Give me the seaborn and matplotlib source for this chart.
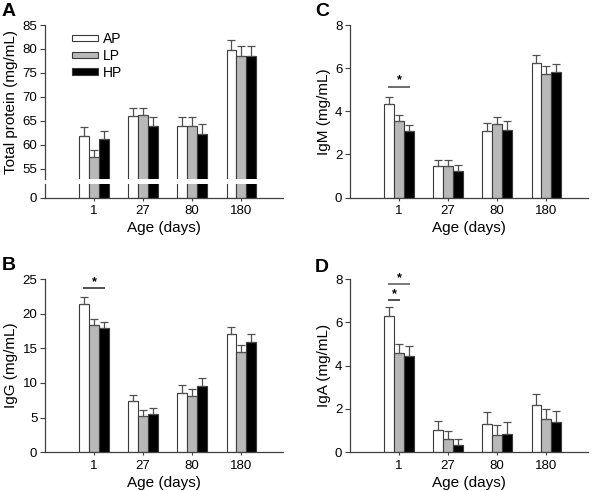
import matplotlib

matplotlib.use("Agg")
import matplotlib.patches as mpatches
import matplotlib.pyplot as plt
import numpy as np
import pandas as pd
import seaborn as sns

AGES = ["1", "27", "80", "180"]
GROUPS = ["AP", "LP", "HP"]
COLORS = {"AP": "#ffffff", "LP": "#b8b8b8", "HP": "#000000"}

# Total protein (mg/mL)
TP_AP = [61.9, 66.0, 64.0, 79.8]
TP_LP = [57.5, 66.2, 64.0, 78.6]
TP_HP = [61.3, 64.0, 62.2, 78.5]
TP_ERR_AP = [1.9, 1.7, 1.9, 2.0]
TP_ERR_LP = [1.4, 1.5, 1.8, 2.0]
TP_ERR_HP = [1.6, 1.8, 2.1, 2.1]

# IgG (mg/mL)
IGG_AP = [21.4, 7.36, 8.6, 17.0]
IGG_LP = [18.4, 5.24, 8.17, 14.5]
IGG_HP = [17.9, 5.48, 9.57, 15.9]
IGG_ERR_AP = [1.05, 0.95, 1.15, 1.1]
IGG_ERR_LP = [0.8, 0.9, 0.95, 0.95]
IGG_ERR_HP = [0.95, 0.95, 1.2, 1.2]

# IgM (mg/mL)
IGM_AP = [4.33, 1.46, 3.07, 6.22]
IGM_LP = [3.53, 1.46, 3.42, 5.74]
IGM_HP = [3.07, 1.21, 3.13, 5.82]
IGM_ERR_AP = [0.33, 0.30, 0.37, 0.37]
IGM_ERR_LP = [0.28, 0.27, 0.31, 0.34]
IGM_ERR_HP = [0.30, 0.29, 0.40, 0.36]

# IgA (mg/mL)
IGA_AP = [6.28, 1.02, 1.32, 2.2]
IGA_LP = [4.57, 0.60, 0.78, 1.52]
IGA_HP = [4.43, 0.32, 0.86, 1.40]
IGA_ERR_AP = [0.44, 0.41, 0.54, 0.51]
IGA_ERR_LP = [0.41, 0.40, 0.47, 0.46]
IGA_ERR_HP = [0.46, 0.28, 0.56, 0.52]

# significance brackets: (first group idx, last group idx, height, colour)
SIG_B = [(0, 2, 23.65, "#222222")]
SIG_C = [(0, 2, 5.14, "#444444")]
SIG_D = [(0, 2, 7.75, "#555555"), (0, 1, 7.03, "#222222")]

EDGE = "#3a3a3a"
AXC = "#404040"

plt.rcParams["font.family"] = ["Liberation Sans", "DejaVu Sans"]
plt.rcParams["axes.edgecolor"] = AXC
plt.rcParams["xtick.color"] = AXC
plt.rcParams["ytick.color"] = AXC
plt.rcParams["xtick.labelcolor"] = "black"
plt.rcParams["ytick.labelcolor"] = "black"


def make_df(ap, lp, hp):
    rows = []
    for g, vals in zip(GROUPS, (ap, lp, hp)):
        for a, v in zip(AGES, vals):
            rows.append({"age": a, "group": g, "value": v})
    return pd.DataFrame(rows)


def bars(ax, ap, lp, hp, errs=None):
    df = make_df(ap, lp, hp)
    sns.barplot(data=df, x="age", y="value", hue="group", order=AGES,
                hue_order=GROUPS, palette=COLORS, width=0.6, errorbar=None,
                edgecolor=EDGE, linewidth=0.8, legend=False, ax=ax)
    centers = []
    for cont, err in zip(ax.containers, errs or [None] * 3):
        xs = [b.get_x() + b.get_width() / 2 for b in cont]
        hs = [b.get_height() for b in cont]
        centers.append(xs)
        if err is not None:
            ax.errorbar(xs, hs, yerr=[np.zeros(len(err)), err], fmt="none",
                        ecolor="#505050", elinewidth=0.9, capsize=2.6,
                        capthick=0.9, zorder=1)
    return centers


def style(ax, show_x=True):
    sns.despine(ax=ax)
    ax.set_xlim(-1.0, 3.85)
    ax.set_xlabel("")
    ax.set_ylabel("")
    ax.tick_params(axis="y", length=3.5, width=0.8, labelsize=9.5, pad=2)
    ax.tick_params(axis="x", length=2.5, width=0.8, labelsize=9.5, pad=3)
    for s in ax.spines.values():
        s.set_linewidth(0.9)
    if show_x:
        ax.set_xlabel("Age (days)", fontsize=11, labelpad=3)


def sig(ax, centers, items):
    for i0, i1, h, col in items:
        x0 = centers[i0][0]
        x1 = centers[i1][0]
        ax.plot([x0 - 0.02, x1 + 0.02], [h, h], color=col, lw=1.1,
                solid_capstyle="butt", clip_on=False)
        ax.text((x0 + x1) / 2, h, "*", ha="center", va="bottom", fontsize=9,
                fontweight="bold")


W, H = 600, 491
fig = plt.figure(figsize=(6.0, 4.91), dpi=100)


def px_axes(left, top, right, bottom):
    return fig.add_axes([left / W, 1 - bottom / H, (right - left) / W,
                         (bottom - top) / H])


# --- A: total protein, broken y axis ---
axA_top = px_axes(45, 25, 283, 179)
axA_bot = px_axes(45, 184.3, 283, 197.5)
bars(axA_top, TP_AP, TP_LP, TP_HP, [TP_ERR_AP, TP_ERR_LP, TP_ERR_HP])
bars(axA_bot, TP_AP, TP_LP, TP_HP)
style(axA_top, show_x=False)
style(axA_bot)
axA_top.set_ylim(52.9, 85)
axA_top.set_yticks([55, 60, 65, 70, 75, 80, 85])
axA_top.spines["bottom"].set_visible(False)
axA_top.tick_params(axis="x", bottom=False, labelbottom=False)
axA_top.set_ylabel("Total protein (mg/mL)", fontsize=11, labelpad=3)
axA_bot.set_ylim(0, 2.77)
axA_bot.set_yticks([0])
handles = [mpatches.Patch(facecolor=COLORS[g], edgecolor=EDGE, linewidth=0.8,
                          label=g) for g in GROUPS]
fig.legend(handles=handles, loc="upper left",
           bbox_to_anchor=(72 / W, 1 - 32 / H), frameon=False, fontsize=10,
           handlelength=1.85, handleheight=0.32, handletextpad=0.35,
           labelspacing=0.2, borderpad=0, borderaxespad=0)

# --- C: IgM ---
axC = px_axes(350, 25, 588, 197.5)
cC = bars(axC, IGM_AP, IGM_LP, IGM_HP, [IGM_ERR_AP, IGM_ERR_LP, IGM_ERR_HP])
style(axC)
axC.set_ylim(0, 8)
axC.set_yticks([0, 2, 4, 6, 8])
axC.set_ylabel("IgM (mg/mL)", fontsize=11, labelpad=3)
sig(axC, cC, SIG_C)

# --- B: IgG ---
axB = px_axes(45, 279, 283, 452.3)
cB = bars(axB, IGG_AP, IGG_LP, IGG_HP, [IGG_ERR_AP, IGG_ERR_LP, IGG_ERR_HP])
style(axB)
axB.set_ylim(0, 25)
axB.set_yticks([0, 5, 10, 15, 20, 25])
axB.set_ylabel("IgG (mg/mL)", fontsize=11, labelpad=3)
sig(axB, cB, SIG_B)

# --- D: IgA ---
axD = px_axes(350, 279, 588, 452.3)
cD = bars(axD, IGA_AP, IGA_LP, IGA_HP, [IGA_ERR_AP, IGA_ERR_LP, IGA_ERR_HP])
style(axD)
axD.set_ylim(0, 8)
axD.set_yticks([0, 2, 4, 6, 8])
axD.set_ylabel("IgA (mg/mL)", fontsize=11, labelpad=3)
sig(axD, cD, SIG_D)

for lab, x, y in [("A", 2, 3), ("C", 315, 3), ("B", 2, 257), ("D", 315, 259)]:
    fig.text(x / W, 1 - y / H, lab, fontsize=14, fontweight="bold",
             ha="left", va="top")

fig.savefig("out.png", dpi=100)
